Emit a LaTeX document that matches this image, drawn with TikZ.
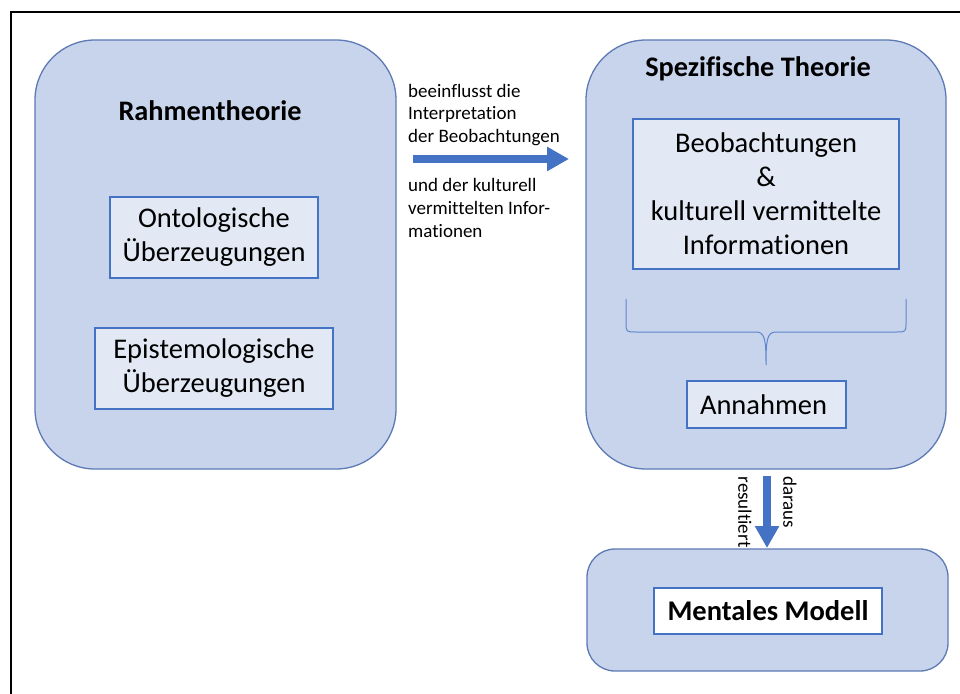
\documentclass[tikz,border=0pt]{standalone}
\usepackage{fontspec}
\setmainfont{Carlito}[Ligatures=NoCommon]
\usetikzlibrary{arrows.meta}
\definecolor{outerfill}{HTML}{C7D4EC}
\definecolor{outerline}{HTML}{5E7AB4}
\definecolor{innerfill}{HTML}{E2E8F4}
\definecolor{accent}{HTML}{4472C4}
\tikzset{
  theory/.style={draw=outerline, fill=outerfill, line width=1.3pt, rounded corners=60pt, inner sep=0pt},
  itembox/.style={draw=accent, fill=innerfill, line width=1.8pt, inner sep=0pt, align=center,
    font=\fontsize{28.5}{34}\selectfont},
  title/.style={font=\fontsize{28.3}{32}\selectfont\bfseries},
  note/.style={font=\fontsize{19}{22.7}\selectfont, align=left, inner sep=0pt},
  flow/.style={draw=accent, line width=8pt, -{Triangle[length=22pt,width=23pt]}},
}
\begin{document}
\begin{tikzpicture}[x=1pt,y=-1pt]
\useasboundingbox (0,0) rectangle (960,693);
\clip (0,0) rectangle (960,693);
\fill[white] (0,0) rectangle (960,693);
% page frame
\draw[line width=2pt, black] (11,12) rectangle (990,720);

% Rahmentheorie
\node[theory, minimum width=361pt, minimum height=429pt] (rahmen) at (215.5,254.5) {};
\node[title] (rtitle) at (210,111) {Rahmentheorie};
\node[itembox, minimum width=208pt, minimum height=81pt] (onto) at (214,237.5)
  {Ontologische\\Überzeugungen};
\node[itembox, minimum width=238pt, minimum height=81pt] (epi) at (214,368.5)
  {Epistemologische\\Überzeugungen};

% Spezifische Theorie
\node[theory, minimum width=360pt, minimum height=429pt] (spez) at (766,254.5) {};
\node[title] (stitle) at (758,69) {Spezifische Theorie};
\node[itembox, minimum width=266pt, minimum height=150pt] (beob) at (766,194)
  {Beobachtungen\\\&\\kulturell vermittelte\\Informationen};
\node[itembox, minimum width=159pt, minimum height=47pt] (annahmen) at (766.5,404.5)
  {Annahmen\hspace*{6pt}};
% brace gathering the upper box into the assumptions
\draw[accent!85!white, line width=1pt]
  (626,299) -- (626,322) .. controls (626,332) .. (636,332) -- (756,332)
  .. controls (765,332) and (766,340) .. (766,365)
  .. controls (766,340) and (767,332) .. (776,332) -- (896,332)
  .. controls (906,332) .. (906,322) -- (906,299);

% Mentales Modell
\node[theory, rounded corners=28pt, minimum width=361pt, minimum height=122pt] (mm) at (767.5,610) {};
\node[draw=accent, fill=white, line width=1.8pt, minimum width=228pt, minimum height=46pt,
  inner sep=0pt, font=\fontsize{28.5}{32}\selectfont\bfseries] (mmin) at (768,611) {Mentales Modell};

% arrows
\coordinate (h1) at (413,159);
\coordinate (h2) at (569,159);
\draw[flow] (h1) -- (h2);
\node[note, anchor=west] (n1) at (408,115) {beeinflusst die\\Interpretation\\der Beobachtungen};
\node[note, anchor=west] (n2) at (408,208) {und der kulturell\\vermittelten Infor-\\mationen};

\coordinate (v1) at (767,476);
\coordinate (v2) at (767,548);
\draw[flow] (v1) -- (v2);
\node[note, rotate=-90] (n3) at (790,502) {daraus};
\node[note, rotate=-90] (n4) at (745,512) {resultiert};
\end{tikzpicture}
\end{document}
